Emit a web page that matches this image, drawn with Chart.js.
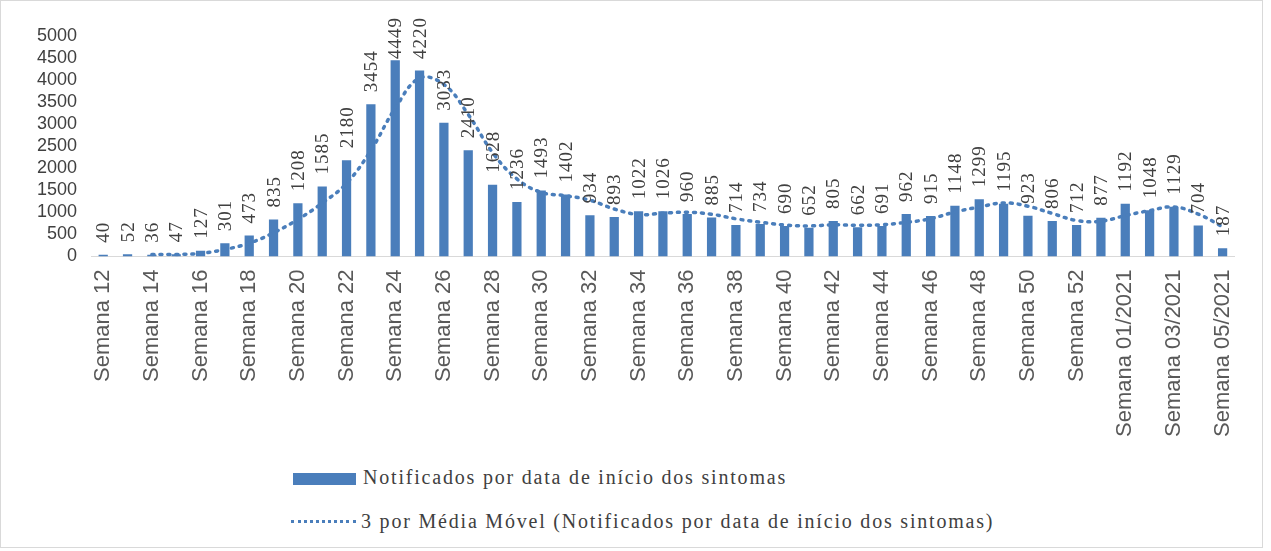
<!DOCTYPE html>
<html>
<head>
<meta charset="utf-8">
<script src="https://cdn.jsdelivr.net/npm/chart.js@4/dist/chart.umd.min.js"></script>
<style>
  body { margin: 0; background: #fff; }
  #frame { position: absolute; left: 0; top: 0; width: 1261px; height: 546px; border: 1px solid #d9d9d9; background: #fff; }
  #wrap { position: absolute; left: 0; top: 0; width: 1261px; height: 455px; }
  .leg { position: absolute; font-family: "Liberation Serif", serif; font-size: 20px; letter-spacing: 1.8px; color: #404040; white-space: nowrap; }
  .sw { position: absolute; }
</style>
</head>
<body>
<div id="frame">
  <div id="wrap"><canvas id="c"></canvas></div>
  <div class="sw" id="sw1" style="left:292px; top:472px; width:63px; height:12px;"></div>
  <div class="leg" id="lg1" style="left:362px; top:465px;"></div>
  <div class="sw" id="sw2" style="left:290px; top:519px; width:65px; height:0; border-top:3px dotted;"></div>
  <div class="leg" id="lg2" style="left:360px; top:509px;"></div>
</div>
<script>
// weeks of notification
let weeks = ["Semana 12", "Semana 13", "Semana 14", "Semana 15", "Semana 16", "Semana 17", "Semana 18", "Semana 19",
    "Semana 20", "Semana 21", "Semana 22", "Semana 23", "Semana 24", "Semana 25", "Semana 26", "Semana 27",
    "Semana 28", "Semana 29", "Semana 30", "Semana 31", "Semana 32", "Semana 33", "Semana 34", "Semana 35",
    "Semana 36", "Semana 37", "Semana 38", "Semana 39", "Semana 40", "Semana 41", "Semana 42", "Semana 43",
    "Semana 44", "Semana 45", "Semana 46", "Semana 47", "Semana 48", "Semana 49", "Semana 50", "Semana 51",
    "Semana 52", "Semana 53", "Semana 01/2021", "Semana 02/2021", "Semana 03/2021", "Semana 04/2021", "Semana 05/2021"];

let notified = [40, 52, 36, 47, 127, 301, 473, 835, 1208, 1585, 2180, 3454, 4449, 4220, 3033, 2410,
    1628, 1236, 1493, 1402, 934, 893, 1022, 1026, 960, 885, 714, 734, 690, 652, 805, 662,
    691, 962, 915, 1148, 1299, 1195, 923, 806, 712, 877, 1192, 1048, 1129, 704, 187];

// trend line (3 period moving average)
let movingAvg = [null, null, 43, 45, 70, 158, 300, 536, 839, 1209, 1658, 2406, 3361, 4041, 3901, 3221,
    2357, 1758, 1452, 1377, 1276, 1076, 950, 980, 1003, 957, 853, 778, 713, 692, 716, 706,
    719, 772, 856, 1008, 1121, 1214, 1139, 975, 814, 798, 927, 1039, 1123, 960, 673];

let yTicks = [0, 500, 1000, 1500, 2000, 2500, 3000, 3500, 4000, 4500, 5000];

let barName = "Notificados por data de início dos sintomas";
let lineName = "3 por Média Móvel (Notificados por data de início dos sintomas)";

let blue = "#4a7ebb";

document.getElementById("lg1").innerText = barName;
document.getElementById("lg2").innerText = lineName;
document.getElementById("sw1").style.background = blue;
document.getElementById("sw2").style.borderTopColor = blue;

// rotated value labels over each bar
let barLabels = {
    id: "barLabels",
    afterDatasetsDraw(chart) {
        let ctx = chart.ctx;
        let meta = chart.getDatasetMeta(1);
        ctx.save();
        ctx.font = "19px 'Liberation Serif'";
        ctx.letterSpacing = "1px";
        ctx.fillStyle = "#404040";
        ctx.textAlign = "left";
        ctx.textBaseline = "middle";
        meta.data.forEach((bar, i) => {
            let txt = String(notified[i]);
            let w = ctx.measureText(txt).width;
            let y = bar.y - 12;
            if (y - w < 16) y = 16 + w;
            ctx.save();
            ctx.translate(bar.x + 1, y);
            ctx.rotate(-Math.PI / 2);
            ctx.fillText(txt, 0, 0);
            ctx.restore();
        });
        ctx.restore();
    }
};

new Chart(document.getElementById("c"), {
    data: {
        labels: weeks,
        datasets: [{
            type: "line",
            label: lineName,
            data: movingAvg,
            borderColor: blue,
            borderWidth: 3.5,
            borderDash: [2, 6],
            borderCapStyle: "round",
            pointRadius: 0,
            tension: 0.4,
            order: 0
        }, {
            type: "bar",
            label: barName,
            data: notified,
            backgroundColor: blue,
            categoryPercentage: 1,
            barPercentage: 0.38,
            order: 1
        }]
    },
    options: {
        responsive: true,
        maintainAspectRatio: false,
        animation: false,
        layout: { padding: { top: 35, right: 0, left: 22, bottom: 6 } },
        plugins: {
            legend: { display: false },
            tooltip: { enabled: false }
        },
        scales: {
            x: {
                grid: { display: false, drawTicks: false },
                border: { color: "#d9d9d9", width: 1 },
                ticks: {
                    autoSkip: false,
                    minRotation: 90,
                    maxRotation: 90,
                    padding: 13,
                    color: "#595959",
                    font: { family: "Liberation Sans", size: 22 },
                    callback: (v, i) => i % 2 === 0 ? weeks[i] : ""
                }
            },
            y: {
                min: 0,
                max: 5000,
                afterBuildTicks: axis => { axis.ticks = yTicks.map(v => ({ value: v })); },
                grid: { display: false, drawTicks: false },
                border: { display: false },
                ticks: {
                    autoSkip: false,
                    padding: 14,
                    color: "#404040",
                    font: { family: "Liberation Sans", size: 18 },
                    callback: v => String(v)
                }
            }
        }
    },
    plugins: [barLabels]
});
</script>
</body>
</html>
